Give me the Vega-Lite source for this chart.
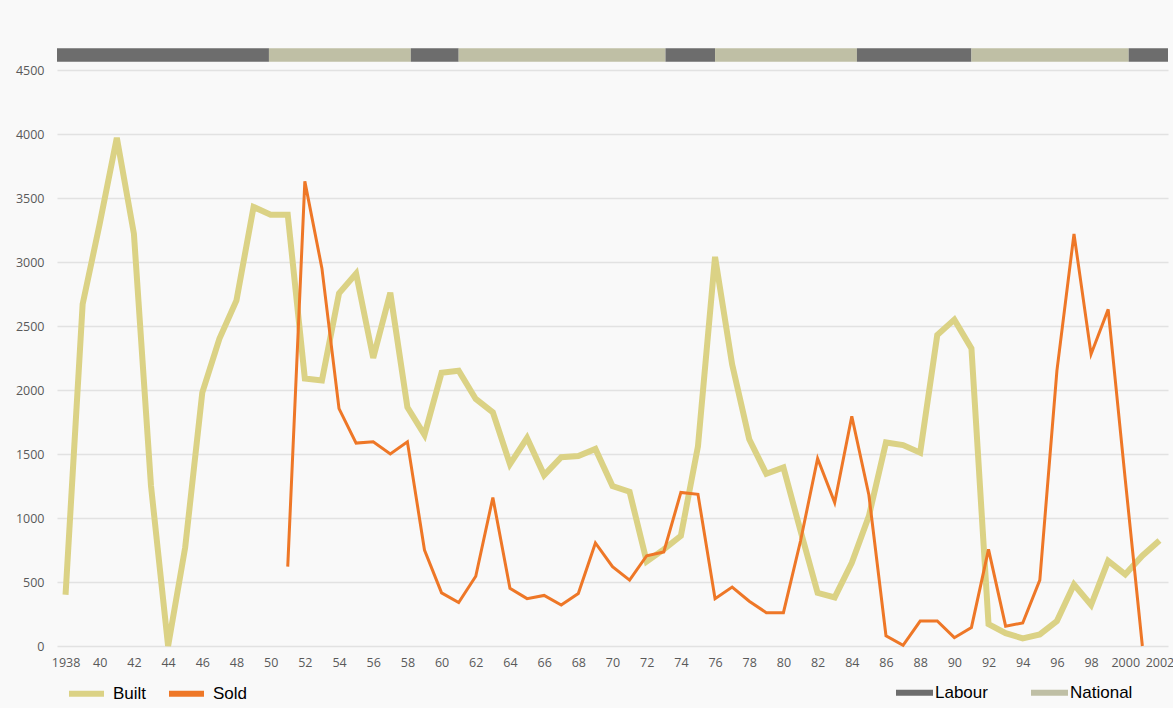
{
  "$schema": "https://vega.github.io/schema/vega-lite/v6.json",
  "autosize": {"type": "none"},
  "width": 1111,
  "height": 600,
  "padding": {"left": 57, "top": 46, "right": 5, "bottom": 62},
  "background": "#f9f9f9",
  "config": {
    "view": {"stroke": null},
    "axis": {"labelFont": "Open Sans", "labelFontSize": 12.5, "labelColor": "#595959", "domain": false, "ticks": false, "title": null},
    "legend": {"labelFont": "Liberation Sans", "labelFontSize": 17, "labelColor": "#000000", "title": null, "orient": "none", "direction": "horizontal", "padding": 0}
  },
  "datasets": {
    "gov": [
      {"party": "Labour", "start": 1937.5, "end": 1949.9},
      {"party": "National", "start": 1949.9, "end": 1958.2},
      {"party": "Labour", "start": 1958.2, "end": 1961.0},
      {"party": "National", "start": 1961.0, "end": 1973.1},
      {"party": "Labour", "start": 1973.1, "end": 1976.0},
      {"party": "National", "start": 1976.0, "end": 1984.3},
      {"party": "Labour", "start": 1984.3, "end": 1991.0},
      {"party": "National", "start": 1991.0, "end": 2000.2},
      {"party": "Labour", "start": 2000.2, "end": 2002.5}
    ],
    "housing": [
      {"year": 1938, "series": "Built", "value": 400},
      {"year": 1939, "series": "Built", "value": 2670},
      {"year": 1940, "series": "Built", "value": 3300},
      {"year": 1941, "series": "Built", "value": 3970},
      {"year": 1942, "series": "Built", "value": 3220},
      {"year": 1943, "series": "Built", "value": 1250},
      {"year": 1944, "series": "Built", "value": 0},
      {"year": 1945, "series": "Built", "value": 770},
      {"year": 1946, "series": "Built", "value": 1980},
      {"year": 1947, "series": "Built", "value": 2400},
      {"year": 1948, "series": "Built", "value": 2700},
      {"year": 1949, "series": "Built", "value": 3430},
      {"year": 1950, "series": "Built", "value": 3370},
      {"year": 1951, "series": "Built", "value": 3370},
      {"year": 1952, "series": "Built", "value": 2090},
      {"year": 1953, "series": "Built", "value": 2075},
      {"year": 1954, "series": "Built", "value": 2755},
      {"year": 1955, "series": "Built", "value": 2910},
      {"year": 1956, "series": "Built", "value": 2250},
      {"year": 1957, "series": "Built", "value": 2760},
      {"year": 1958, "series": "Built", "value": 1865},
      {"year": 1959, "series": "Built", "value": 1650},
      {"year": 1960, "series": "Built", "value": 2135},
      {"year": 1961, "series": "Built", "value": 2150},
      {"year": 1962, "series": "Built", "value": 1930},
      {"year": 1963, "series": "Built", "value": 1825},
      {"year": 1964, "series": "Built", "value": 1420},
      {"year": 1965, "series": "Built", "value": 1625},
      {"year": 1966, "series": "Built", "value": 1335},
      {"year": 1967, "series": "Built", "value": 1475},
      {"year": 1968, "series": "Built", "value": 1485},
      {"year": 1969, "series": "Built", "value": 1540},
      {"year": 1970, "series": "Built", "value": 1250},
      {"year": 1971, "series": "Built", "value": 1205},
      {"year": 1972, "series": "Built", "value": 660},
      {"year": 1973, "series": "Built", "value": 755},
      {"year": 1974, "series": "Built", "value": 860},
      {"year": 1975, "series": "Built", "value": 1560},
      {"year": 1976, "series": "Built", "value": 3040},
      {"year": 1977, "series": "Built", "value": 2200},
      {"year": 1978, "series": "Built", "value": 1615},
      {"year": 1979, "series": "Built", "value": 1345},
      {"year": 1980, "series": "Built", "value": 1395},
      {"year": 1981, "series": "Built", "value": 900},
      {"year": 1982, "series": "Built", "value": 415},
      {"year": 1983, "series": "Built", "value": 380},
      {"year": 1984, "series": "Built", "value": 650},
      {"year": 1985, "series": "Built", "value": 1015},
      {"year": 1986, "series": "Built", "value": 1590},
      {"year": 1987, "series": "Built", "value": 1570},
      {"year": 1988, "series": "Built", "value": 1510},
      {"year": 1989, "series": "Built", "value": 2430},
      {"year": 1990, "series": "Built", "value": 2550},
      {"year": 1991, "series": "Built", "value": 2325},
      {"year": 1992, "series": "Built", "value": 170},
      {"year": 1993, "series": "Built", "value": 100},
      {"year": 1994, "series": "Built", "value": 60},
      {"year": 1995, "series": "Built", "value": 90},
      {"year": 1996, "series": "Built", "value": 195},
      {"year": 1997, "series": "Built", "value": 480},
      {"year": 1998, "series": "Built", "value": 320},
      {"year": 1999, "series": "Built", "value": 665},
      {"year": 2000, "series": "Built", "value": 560},
      {"year": 2001, "series": "Built", "value": 705},
      {"year": 2002, "series": "Built", "value": 825},
      {"year": 1951, "series": "Sold", "value": 620},
      {"year": 1952, "series": "Sold", "value": 3630},
      {"year": 1953, "series": "Sold", "value": 2950},
      {"year": 1954, "series": "Sold", "value": 1855},
      {"year": 1955, "series": "Sold", "value": 1585},
      {"year": 1956, "series": "Sold", "value": 1595},
      {"year": 1957, "series": "Sold", "value": 1500},
      {"year": 1958, "series": "Sold", "value": 1595},
      {"year": 1959, "series": "Sold", "value": 750},
      {"year": 1960, "series": "Sold", "value": 415},
      {"year": 1961, "series": "Sold", "value": 340},
      {"year": 1962, "series": "Sold", "value": 545},
      {"year": 1963, "series": "Sold", "value": 1160},
      {"year": 1964, "series": "Sold", "value": 450},
      {"year": 1965, "series": "Sold", "value": 370},
      {"year": 1966, "series": "Sold", "value": 395},
      {"year": 1967, "series": "Sold", "value": 320},
      {"year": 1968, "series": "Sold", "value": 410},
      {"year": 1969, "series": "Sold", "value": 805},
      {"year": 1970, "series": "Sold", "value": 620},
      {"year": 1971, "series": "Sold", "value": 515},
      {"year": 1972, "series": "Sold", "value": 705},
      {"year": 1973, "series": "Sold", "value": 735},
      {"year": 1974, "series": "Sold", "value": 1200},
      {"year": 1975, "series": "Sold", "value": 1185},
      {"year": 1976, "series": "Sold", "value": 370},
      {"year": 1977, "series": "Sold", "value": 460},
      {"year": 1978, "series": "Sold", "value": 350},
      {"year": 1979, "series": "Sold", "value": 260},
      {"year": 1980, "series": "Sold", "value": 260},
      {"year": 1981, "series": "Sold", "value": 820},
      {"year": 1982, "series": "Sold", "value": 1465},
      {"year": 1983, "series": "Sold", "value": 1120},
      {"year": 1984, "series": "Sold", "value": 1795},
      {"year": 1985, "series": "Sold", "value": 1180},
      {"year": 1986, "series": "Sold", "value": 80},
      {"year": 1987, "series": "Sold", "value": 5},
      {"year": 1988, "series": "Sold", "value": 195},
      {"year": 1989, "series": "Sold", "value": 195},
      {"year": 1990, "series": "Sold", "value": 65},
      {"year": 1991, "series": "Sold", "value": 145},
      {"year": 1992, "series": "Sold", "value": 755},
      {"year": 1993, "series": "Sold", "value": 155},
      {"year": 1994, "series": "Sold", "value": 180},
      {"year": 1995, "series": "Sold", "value": 515},
      {"year": 1996, "series": "Sold", "value": 2150},
      {"year": 1997, "series": "Sold", "value": 3220},
      {"year": 1998, "series": "Sold", "value": 2280},
      {"year": 1999, "series": "Sold", "value": 2630},
      {"year": 2000, "series": "Sold", "value": 1300},
      {"year": 2001, "series": "Sold", "value": 0}
    ]
  },
  "resolve": {"scale": {"color": "independent"}, "legend": {"color": "independent"}},
  "layer": [
    {
      "data": {"name": "gov"},
      "mark": {"type": "rect"},
      "encoding": {
        "x": {"field": "start", "type": "quantitative", "scale": {"domain": [1937.5, 2002.5], "nice": false, "zero": false},
              "axis": {"values": [1938,1940,1942,1944,1946,1948,1950,1952,1954,1956,1958,1960,1962,1964,1966,1968,1970,1972,1974,1976,1978,1980,1982,1984,1986,1988,1990,1992,1994,1996,1998,2000,2002],
                       "labelExpr": "datum.value == 1938 || datum.value >= 2000 ? datum.label : slice(datum.label, 2)", "format": "d", "grid": false, "labelPadding": 10, "labelFlush": false, "labelOverlap": false}},
        "x2": {"field": "end"},
        "y": {"datum": 4565, "type": "quantitative", "scale": {"domain": [0, 4687.5], "nice": false},
              "axis": {"values": [0,500,1000,1500,2000,2500,3000,3500,4000,4500], "format": "d", "grid": true, "gridColor": "#e2e2e2", "gridWidth": 1.5, "labelPadding": 13}},
        "y2": {"datum": 4669},
        "color": {"field": "party", "type": "nominal",
                  "scale": {"domain": ["Labour", "National"], "range": ["#6d6d6d", "#bfbfa5"]},
                  "legend": {"legendX": 838, "legendY": 627, "symbolType": "M-1,-0.16H1V0.16H-1Z", "symbolSize": 1369, "labelOffset": 1, "columnPadding": 42, "symbolOpacity": 1}}
      }
    },
    {
      "data": {"name": "housing"},
      "layer": [
        {
          "transform": [{"filter": "datum.series == 'Built'"}],
          "mark": {"type": "line", "strokeWidth": 6, "strokeJoin": "miter"},
          "encoding": {
            "x": {"field": "year", "type": "quantitative",
                  "axis": {"values": [1938,1940,1942,1944,1946,1948,1950,1952,1954,1956,1958,1960,1962,1964,1966,1968,1970,1972,1974,1976,1978,1980,1982,1984,1986,1988,1990,1992,1994,1996,1998,2000,2002],
                           "labelExpr": "datum.value == 1938 || datum.value >= 2000 ? datum.label : slice(datum.label, 2)", "format": "d", "grid": false, "labelPadding": 10, "labelFlush": false, "labelOverlap": false}},
            "y": {"field": "value", "type": "quantitative"},
            "color": {"field": "series", "type": "nominal",
                      "scale": {"domain": ["Built", "Sold"], "range": ["#dbd285", "#ee7727"]},
                      "legend": {"legendX": 9, "legendY": 627, "symbolType": "stroke", "symbolSize": 1225, "symbolStrokeWidth": 6, "labelOffset": 6, "columnPadding": 10}}
          }
        },
        {
          "transform": [{"filter": "datum.series == 'Sold'"}],
          "mark": {"type": "line", "strokeWidth": 3, "strokeJoin": "miter"},
          "encoding": {
            "x": {"field": "year", "type": "quantitative",
                  "axis": {"values": [1938,1940,1942,1944,1946,1948,1950,1952,1954,1956,1958,1960,1962,1964,1966,1968,1970,1972,1974,1976,1978,1980,1982,1984,1986,1988,1990,1992,1994,1996,1998,2000,2002],
                           "labelExpr": "datum.value == 1938 || datum.value >= 2000 ? datum.label : slice(datum.label, 2)", "format": "d", "grid": false, "labelPadding": 10, "labelFlush": false, "labelOverlap": false}},
            "y": {"field": "value", "type": "quantitative"},
            "color": {"field": "series", "type": "nominal"}
          }
        }
      ]
    }
  ]
}
